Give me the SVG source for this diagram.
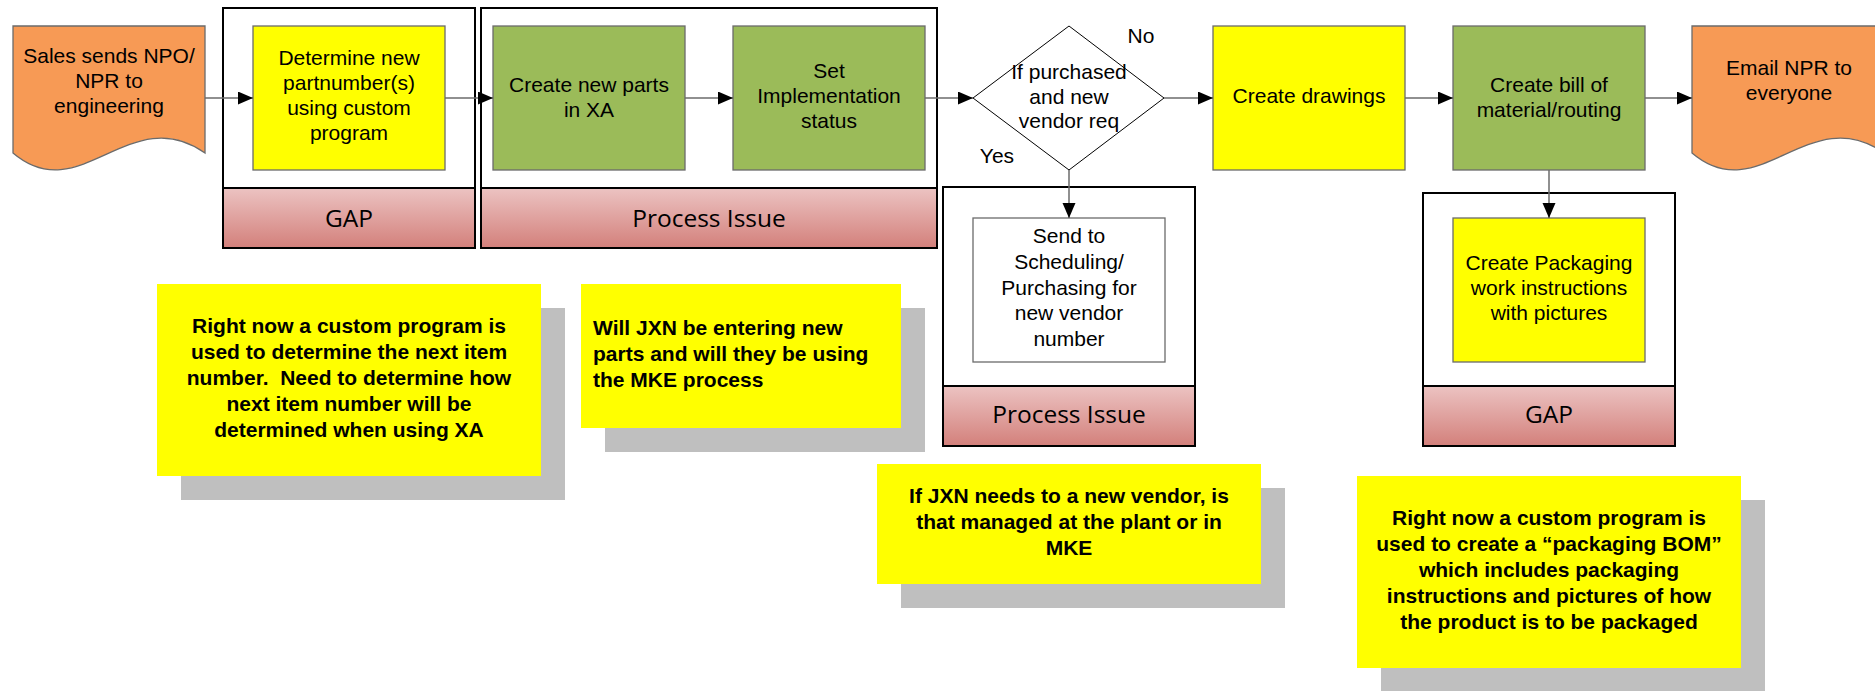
<svg xmlns="http://www.w3.org/2000/svg" width="1875" height="691" viewBox="0 0 1875 691">
<defs>
<linearGradient id="hdr" x1="0" y1="0" x2="0" y2="1">
<stop offset="0" stop-color="#ecc3c2"/>
<stop offset="1" stop-color="#d3807b"/>
</linearGradient>
<marker id="arr" markerUnits="userSpaceOnUse" markerWidth="16" markerHeight="14" refX="15" refY="6.5" orient="auto">
<path d="M0,0 L15,6.5 L0,13 Z" fill="#000"/>
</marker>
<style>
.t{font-family:"Liberation Sans",Arial,sans-serif;font-size:21px;fill:#000;text-anchor:middle}
.nb{font-family:"Liberation Sans",Arial,sans-serif;font-size:21px;font-weight:bold;fill:#000;text-anchor:middle;white-space:pre}
.h{font-family:"Open Sans","DejaVu Sans",sans-serif;font-size:24.5px;fill:#000;text-anchor:middle}
.cont{fill:#fff;stroke:#000;stroke-width:2}
.band{fill:url(#hdr);stroke:#000;stroke-width:2}
.box{stroke:#6b6b6b;stroke-width:1.3}
.y{fill:#ffff00}
.g{fill:#9bbb59}
.o{fill:#f79a55}
.w{fill:#fff}
.sh{fill:#bfbfbf}
.note{fill:#ffff00}
.c{fill:none;stroke:#6b6b6b;stroke-width:1.5;marker-end:url(#arr)}
</style>
</defs>

<g id="container-gap1">
<rect class="cont" x="223" y="8" width="252" height="240"/>
<rect class="band" x="223" y="188" width="252" height="60"/>
<text class="h" x="349" y="227">GAP</text>
</g>
<g id="container-pi1">
<rect class="cont" x="481" y="8" width="456" height="240"/>
<rect class="band" x="481" y="188" width="456" height="60"/>
<text class="h" x="709" y="227">Process Issue</text>
</g>
<g id="container-pi2">
<rect class="cont" x="943" y="187" width="252" height="259"/>
<rect class="band" x="943" y="386" width="252" height="60"/>
<text class="h" x="1069" y="423">Process Issue</text>
</g>
<g id="container-gap2">
<rect class="cont" x="1423" y="193" width="252" height="253"/>
<rect class="band" x="1423" y="386" width="252" height="60"/>
<text class="h" x="1549" y="423">GAP</text>
</g>

<g id="sales">
<path class="box o" d="M13,26 H205 V153 C130,100 80,210 13,153 Z"/>
<text class="t" x="109" y="63">Sales sends NPO/</text>
<text class="t" x="109" y="88">NPR to</text>
<text class="t" x="109" y="113">engineering</text>
</g>
<g id="determine">
<rect class="box y" x="253" y="26" width="192" height="144"/>
<text class="t" x="349" y="65">Determine new</text>
<text class="t" x="349" y="90">partnumber(s)</text>
<text class="t" x="349" y="115">using custom</text>
<text class="t" x="349" y="140">program</text>
</g>
<g id="create-parts">
<rect class="box g" x="493" y="26" width="192" height="144"/>
<text class="t" x="589" y="92">Create new parts</text>
<text class="t" x="589" y="117">in XA</text>
</g>
<g id="set-impl">
<rect class="box g" x="733" y="26" width="192" height="144"/>
<text class="t" x="829" y="78">Set</text>
<text class="t" x="829" y="103">Implementation</text>
<text class="t" x="829" y="128">status</text>
</g>
<g id="decision">
<path d="M973,98 L1069,26 L1164,98 L1069,170 Z" fill="#fff" stroke="#000" stroke-width="1"/>
<text class="t" x="1069" y="79">If purchased</text>
<text class="t" x="1069" y="104">and new</text>
<text class="t" x="1069" y="128">vendor req</text>
</g>
<g id="create-drawings">
<rect class="box y" x="1213" y="26" width="192" height="144"/>
<text class="t" x="1309" y="103">Create drawings</text>
</g>
<g id="bom">
<rect class="box g" x="1453" y="26" width="192" height="144"/>
<text class="t" x="1549" y="92">Create bill of</text>
<text class="t" x="1549" y="117">material/routing</text>
</g>
<g id="email">
<path class="box o" d="M1692,26 H1884 V153 C1809,100 1759,210 1692,153 Z"/>
<text class="t" x="1789" y="75">Email NPR to</text>
<text class="t" x="1789" y="100">everyone</text>
</g>
<g id="send-sched">
<rect class="box w" x="973" y="218" width="192" height="144"/>
<text class="t" x="1069" y="243">Send to</text>
<text class="t" x="1069" y="269">Scheduling/</text>
<text class="t" x="1069" y="295">Purchasing for</text>
<text class="t" x="1069" y="320">new vendor</text>
<text class="t" x="1069" y="346">number</text>
</g>
<g id="packaging">
<rect class="box y" x="1453" y="218" width="192" height="144"/>
<text class="t" x="1549" y="270">Create Packaging</text>
<text class="t" x="1549" y="295">work instructions</text>
<text class="t" x="1549" y="320">with pictures</text>
</g>

<g id="connectors">
<line class="c" x1="205" y1="98" x2="253" y2="98"/>
<line class="c" x1="445" y1="98" x2="493" y2="98"/>
<line class="c" x1="685" y1="98" x2="733" y2="98"/>
<line class="c" x1="925" y1="98" x2="973" y2="98"/>
<line class="c" x1="1164" y1="98" x2="1213" y2="98"/>
<line class="c" x1="1405" y1="98" x2="1453" y2="98"/>
<line class="c" x1="1645" y1="98" x2="1692" y2="98"/>
<line class="c" x1="1069" y1="170" x2="1069" y2="218"/>
<line class="c" x1="1549" y1="170" x2="1549" y2="218"/>
<text class="t" x="1141" y="43">No</text>
<text class="t" x="997" y="163">Yes</text>
</g>

<g id="note1">
<rect class="sh" x="181" y="308" width="384" height="192"/>
<rect class="note" x="157" y="284" width="384" height="192"/>
<text class="nb" x="349" y="333">Right now a custom program is</text>
<text class="nb" x="349" y="359">used to determine the next item</text>
<text class="nb" x="349" y="385">number.  Need to determine how</text>
<text class="nb" x="349" y="411">next item number will be</text>
<text class="nb" x="349" y="437">determined when using XA</text>
</g>
<g id="note2">
<rect class="sh" x="605" y="308" width="320" height="144"/>
<rect class="note" x="581" y="284" width="320" height="144"/>
<text class="nb" x="593" y="335" style="text-anchor:start">Will JXN be entering new</text>
<text class="nb" x="593" y="361" style="text-anchor:start">parts and will they be using</text>
<text class="nb" x="593" y="387" style="text-anchor:start">the MKE process</text>
</g>
<g id="note3">
<rect class="sh" x="901" y="488" width="384" height="120"/>
<rect class="note" x="877" y="464" width="384" height="120"/>
<text class="nb" x="1069" y="503">If JXN needs to a new vendor, is</text>
<text class="nb" x="1069" y="529">that managed at the plant or in</text>
<text class="nb" x="1069" y="555">MKE</text>
</g>
<g id="note4">
<rect class="sh" x="1381" y="500" width="384" height="192"/>
<rect class="note" x="1357" y="476" width="384" height="192"/>
<text class="nb" x="1549" y="525">Right now a custom program is</text>
<text class="nb" x="1549" y="551">used to create a “packaging BOM”</text>
<text class="nb" x="1549" y="577">which includes packaging</text>
<text class="nb" x="1549" y="603">instructions and pictures of how</text>
<text class="nb" x="1549" y="629">the product is to be packaged</text>
</g>
</svg>
